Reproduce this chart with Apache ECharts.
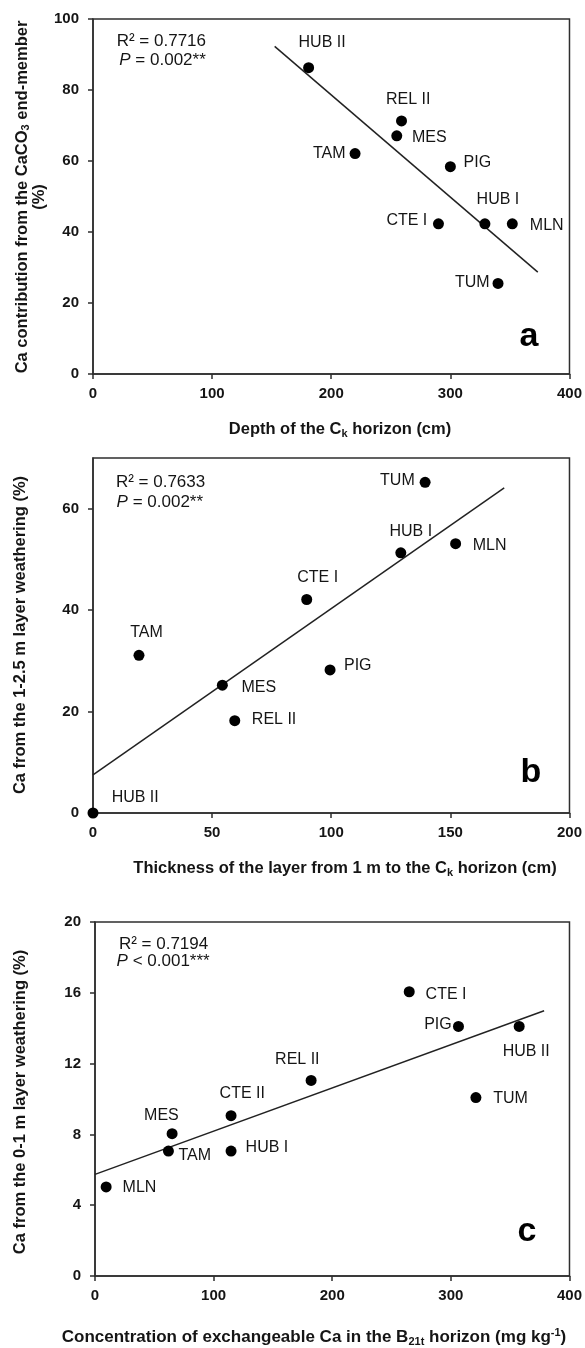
<!DOCTYPE html>
<html>
<head>
<meta charset="utf-8">
<script src="https://cdn.jsdelivr.net/npm/echarts@6/dist/echarts.min.js"></script>
<style>
html,body{margin:0;padding:0;background:#fff;}
#chart{width:585px;height:1348px;}
</style>
</head>
<body>
<div id="chart"></div>
<script>
// ---------- Data ----------
// Panel a: Depth of the Ck horizon vs Ca contribution from CaCO3 end-member
const namesA = ['HUB II','REL II','MES','TAM','PIG','CTE I','HUB I','MLN','TUM'];
const xA = [181, 259, 255, 220, 300, 290, 329, 352, 340];
const yA = [86.3, 71.3, 67.1, 62.1, 58.4, 42.3, 42.3, 42.3, 25.5];
const fitA = [[152.5, 92.3], [373.4, 28.7]];
const statA = ['0.7716', '= 0.002**'];

// Panel b: Thickness of layer vs Ca from 1-2.5 m layer weathering
const namesB = ['TUM','HUB I','MLN','CTE I','TAM','PIG','MES','REL II','HUB II'];
const xB = [139.4, 129.2, 152.2, 89.7, 19.3, 99.5, 54.3, 59.5, 0];
const yB = [65.2, 51.3, 53.1, 42.1, 31.1, 28.2, 25.2, 18.2, 0];
const fitB = [[0, 7.5], [172.6, 64.1]];
const statB = ['0.7633', '= 0.002**'];

// Panel c: Exchangeable Ca in B21t vs Ca from 0-1 m layer weathering
const namesC = ['CTE I','PIG','HUB II','REL II','TUM','CTE II','MES','TAM','HUB I','MLN'];
const xC = [264.9, 306.4, 357.6, 182.2, 321.1, 114.7, 65, 61.9, 114.7, 9.4];
const yC = [16.06, 14.1, 14.1, 11.05, 10.08, 9.06, 8.04, 7.06, 7.06, 5.03];
const fitC = [[0, 5.74], [378.6, 14.99]];
const statC = ['0.7194', '< 0.001***'];

// Tick settings
const ticksA = {x: [0, 400, 100], y: [0, 100, 20]};
const ticksB = {x: [0, 200, 50], y: [0, 70, 20], yLabels: [0, 20, 40, 60]};
const ticksC = {x: [0, 400, 100], y: [0, 20, 4]};

// ---------- Layout (label placement offsets, px) ----------
const offA = [[13.5,-24.7],[6.7,-21.3],[32.5,1.7],[-25.8,0],[27,-4],[-31.6,-3],[13,-24.7],[34.4,1.7],[-25.7,-1.3]];
const offB = [[-27.7,-1.7],[10,-21.7],[34,1.7],[11,-21.7],[7.5,-22.3],[27.7,-4],[36.4,2.3],[39.3,-1.3],[42.2,-15.7]];
const offC = [[36.8,2.7],[-20.5,-1.7],[7,25],[-13.8,-21],[34.7,1],[11.2,-22],[-10.7,-18.3],[26.3,4.3],[35.9,-3],[33.3,1]];

const FF = '"Liberation Sans", Arial, sans-serif';
const TXT = '#151515';
const AX = '#2e2e2e';

const grids = [
  {left: 93, top: 19, width: 477, height: 355},
  {left: 93, top: 458, width: 478, height: 355},
  {left: 95, top: 922, width: 476, height: 354}
];

function mkAxis(type, gi, t, customLabels) {
  const a = {
    type: 'value', gridIndex: gi, min: t[0], max: t[1], interval: t[2],
    axisLine: {show: true, onZero: false, lineStyle: {color: AX, width: 1.5}},
    axisTick: {show: true, inside: false, length: 5, lineStyle: {color: AX, width: 1.5}},
    splitLine: {show: false},
    axisLabel: {color: TXT, fontFamily: FF, fontSize: 15, fontWeight: 'bold',
                margin: type === 'x' ? 12 : 14}
  };
  if (customLabels) {
    a.axisLabel.customValues = customLabels;
    a.axisTick.customValues = customLabels;
  }
  return a;
}

function scatterSeries(gi, names, xs, ys, offs) {
  return {
    type: 'scatter', xAxisIndex: gi, yAxisIndex: gi, clip: false, z: 3,
    symbol: 'circle', symbolSize: 11,
    itemStyle: {color: '#000', opacity: 1},
    label: {show: true, position: 'inside', color: TXT, opacity: 1, textBorderWidth: 0,
            fontFamily: FF, fontSize: 16, formatter: p => p.name},
    data: names.map((n, i) => ({name: n, value: [xs[i], ys[i]], label: {offset: offs[i]}})),
    emphasis: {disabled: true}
  };
}

function fitSeries(gi, pts) {
  return {
    type: 'line', xAxisIndex: gi, yAxisIndex: gi, z: 2, symbol: 'none',
    lineStyle: {color: '#222', width: 1.5}, data: pts, silent: true
  };
}

const richBase = {
  sub: {fontFamily: FF, fontSize: 11, fontWeight: 'bold', fill: TXT, verticalAlign: 'bottom', lineHeight: 11},
  sup: {fontFamily: FF, fontSize: 11, fontWeight: 'bold', fill: TXT, verticalAlign: 'top', lineHeight: 11},
  i: {fontFamily: FF, fontSize: 17, fontStyle: 'italic', fill: TXT}
};

function titleText(x, y, text, size, rot, lh) {
  return {
    type: 'text', x: x, y: y, rotation: rot || 0, silent: true,
    style: {
      text: text, fill: TXT, fontFamily: FF, fontSize: size, fontWeight: 'bold',
      align: 'center', verticalAlign: 'middle', lineHeight: lh || 20,
      rich: richBase
    }
  };
}

function statText(x1, y1, x2, y2, stat) {
  return [
    {type: 'text', x: x1, y: y1, silent: true,
     style: {text: 'R\u00b2 = ' + stat[0], fill: TXT, fontFamily: FF, fontSize: 17,
             align: 'left', verticalAlign: 'middle'}},
    {type: 'text', x: x2, y: y2, silent: true,
     style: {text: '{i|P} ' + stat[1], fill: TXT, fontFamily: FF, fontSize: 17,
             align: 'left', verticalAlign: 'middle', rich: richBase}}
  ];
}

function letter(x, y, ch) {
  return {type: 'text', x: x, y: y, silent: true,
          style: {text: ch, fill: '#000', fontFamily: FF, fontSize: 34, fontWeight: 'bold',
                  align: 'center', verticalAlign: 'middle'}};
}

const option = {
  animation: false,
  backgroundColor: '#fff',
  grid: grids.map(g => Object.assign({show: true, borderColor: AX, borderWidth: 1.5,
                                      backgroundColor: 'transparent', containLabel: false}, g)),
  xAxis: [mkAxis('x', 0, ticksA.x), mkAxis('x', 1, ticksB.x), mkAxis('x', 2, ticksC.x)],
  yAxis: [mkAxis('y', 0, ticksA.y), mkAxis('y', 1, ticksB.y, ticksB.yLabels), mkAxis('y', 2, ticksC.y)],
  series: [
    fitSeries(0, fitA), scatterSeries(0, namesA, xA, yA, offA),
    fitSeries(1, fitB), scatterSeries(1, namesB, xB, yB, offB),
    fitSeries(2, fitC), scatterSeries(2, namesC, xC, yC, offC)
  ],
  graphic: [].concat(
    statText(116.7, 41.3, 119.3, 60.7, statA),
    statText(115.9, 482.4, 116.6, 502.3, statB),
    statText(118.9, 944, 116.6, 961.7, statC),
    [
      letter(529, 336.5, 'a'),
      letter(531, 773, 'b'),
      letter(527, 1231.5, 'c'),
      titleText(340, 429, 'Depth of the C{sub|k} horizon (cm)', 16.5),
      titleText(345, 868, 'Thickness of the layer from 1 m to the C{sub|k} horizon (cm)', 16.5),
      titleText(314, 1337, 'Concentration of exchangeable Ca in the B{sub|21t} horizon (mg kg{sup|-1})', 17),
      titleText(31, 197, 'Ca contribution from the CaCO{sub|3} end-member\n(%)', 16.5, Math.PI / 2, 17),
      titleText(20.5, 635, 'Ca from the 1-2.5 m layer weathering (%)', 16.5, Math.PI / 2),
      titleText(20.5, 1102, 'Ca from the 0-1 m layer weathering (%)', 16.5, Math.PI / 2)
    ]
  )
};

const chart = echarts.init(document.getElementById('chart'), null, {renderer: 'canvas'});
chart.setOption(option);
</script>
</body>
</html>
